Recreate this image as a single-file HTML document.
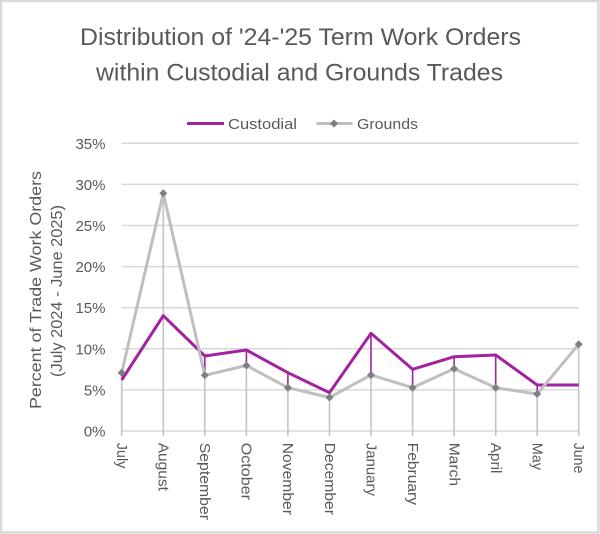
<!DOCTYPE html>
<html><head><meta charset="utf-8"><style>
html,body{margin:0;padding:0;background:#fff;}
svg{display:block;}
text{font-family:"Liberation Sans",Arial,sans-serif;fill:#595959;}
</style></head><body>
<svg width="600" height="534" viewBox="0 0 600 534" xmlns="http://www.w3.org/2000/svg">
<rect x="0" y="0" width="600" height="534" fill="#fff"/>
<rect x="1" y="1" width="597.5" height="531.5" fill="none" stroke="#d9d9d9" stroke-width="2.5"/>

<!-- Title -->
<text x="80" y="45" font-size="24.5" textLength="441" lengthAdjust="spacingAndGlyphs">Distribution of '24-'25 Term Work Orders</text>
<text x="96" y="80.5" font-size="24.5" textLength="407" lengthAdjust="spacingAndGlyphs">within Custodial and Grounds Trades</text>

<!-- Legend -->
<line x1="187" y1="123.5" x2="224" y2="123.5" stroke="#A2239F" stroke-width="3"/>
<text x="228" y="129" font-size="15" textLength="69" lengthAdjust="spacingAndGlyphs">Custodial</text>
<line x1="316.5" y1="123.5" x2="352.5" y2="123.5" stroke="#BFBFBF" stroke-width="3"/>
<path d="M334 119.5 L338 123.5 L334 127.5 L330 123.5 Z" fill="#7F7F7F"/>
<text x="357" y="129" font-size="15" textLength="61" lengthAdjust="spacingAndGlyphs">Grounds</text>

<!-- Gridlines -->
<g stroke="#D9D9D9" stroke-width="1.5">
<line x1="121.7" y1="143.3" x2="578.7" y2="143.3"/>
<line x1="121.7" y1="184.4" x2="578.7" y2="184.4"/>
<line x1="121.7" y1="225.5" x2="578.7" y2="225.5"/>
<line x1="121.7" y1="266.6" x2="578.7" y2="266.6"/>
<line x1="121.7" y1="307.7" x2="578.7" y2="307.7"/>
<line x1="121.7" y1="348.8" x2="578.7" y2="348.8"/>
<line x1="121.7" y1="389.9" x2="578.7" y2="389.9"/>
<line x1="121.7" y1="431" x2="578.7" y2="431"/>
</g>

<!-- Y labels -->
<g font-size="15" text-anchor="end">
<text x="105.5" y="148.8">35%</text>
<text x="105.5" y="189.9">30%</text>
<text x="105.5" y="231">25%</text>
<text x="105.5" y="272.1">20%</text>
<text x="105.5" y="313.2">15%</text>
<text x="105.5" y="354.3">10%</text>
<text x="105.5" y="395.4">5%</text>
<text x="105.5" y="436.5">0%</text>
</g>

<!-- Y axis title -->
<text transform="translate(41,290) rotate(-90)" text-anchor="middle" font-size="15.5" textLength="238" lengthAdjust="spacingAndGlyphs">Percent of Trade Work Orders</text>
<text transform="translate(62,291) rotate(-90)" text-anchor="middle" font-size="15.5" textLength="172" lengthAdjust="spacingAndGlyphs">(July 2024 - June 2025)</text>

<!-- Drop lines (gray) from grounds to axis incl. ticks -->
<g stroke="#C4C4C4" stroke-width="1.6">
<line x1="121.7" y1="372.7" x2="121.7" y2="436"/>
<line x1="163.3" y1="193.3" x2="163.3" y2="436"/>
<line x1="204.8" y1="375.3" x2="204.8" y2="436"/>
<line x1="246.4" y1="365.5" x2="246.4" y2="436"/>
<line x1="287.9" y1="387.7" x2="287.9" y2="436"/>
<line x1="329.5" y1="397.5" x2="329.5" y2="436"/>
<line x1="371" y1="375" x2="371" y2="436"/>
<line x1="412.6" y1="387.7" x2="412.6" y2="436"/>
<line x1="454.1" y1="368.7" x2="454.1" y2="436"/>
<line x1="495.7" y1="387.7" x2="495.7" y2="436"/>
<line x1="537.2" y1="394" x2="537.2" y2="436"/>
<line x1="578.7" y1="344.3" x2="578.7" y2="436"/>
</g>
<!-- Purple high-low segments -->
<g stroke="#A2239F" stroke-width="1.6">
<line x1="204.8" y1="356" x2="204.8" y2="375.3"/>
<line x1="246.4" y1="350" x2="246.4" y2="365.5"/>
<line x1="287.9" y1="372.7" x2="287.9" y2="387.7"/>
<line x1="329.5" y1="392.7" x2="329.5" y2="397.5"/>
<line x1="371" y1="333.3" x2="371" y2="375"/>
<line x1="412.6" y1="369.3" x2="412.6" y2="387.7"/>
<line x1="454.1" y1="356.7" x2="454.1" y2="368.7"/>
<line x1="495.7" y1="355" x2="495.7" y2="387.7"/>
<line x1="537.2" y1="385" x2="537.2" y2="394"/>
</g>

<!-- Custodial series -->
<polyline fill="none" stroke="#A2239F" stroke-width="3" stroke-linejoin="round" points="121.7,380 163.3,315.7 204.8,356 246.4,350 287.9,372.7 329.5,392.7 371,333.3 412.6,369.3 454.1,356.7 495.7,355 537.2,385 578.7,385"/>

<!-- Grounds series -->
<polyline fill="none" stroke="#BFBFBF" stroke-width="3" stroke-linejoin="round" points="121.7,372.7 163.3,193.3 204.8,375.3 246.4,365.5 287.9,387.7 329.5,397.5 371,375 412.6,387.7 454.1,368.7 495.7,387.7 537.2,394 578.7,344.3"/>
<g fill="#7F7F7F">
<path d="M121.7 368.7 l4 4 l-4 4 l-4 -4 Z"/>
<path d="M163.3 189.3 l4 4 l-4 4 l-4 -4 Z"/>
<path d="M204.8 371.3 l4 4 l-4 4 l-4 -4 Z"/>
<path d="M246.4 361.5 l4 4 l-4 4 l-4 -4 Z"/>
<path d="M287.9 383.7 l4 4 l-4 4 l-4 -4 Z"/>
<path d="M329.5 393.5 l4 4 l-4 4 l-4 -4 Z"/>
<path d="M371 371 l4 4 l-4 4 l-4 -4 Z"/>
<path d="M412.6 383.7 l4 4 l-4 4 l-4 -4 Z"/>
<path d="M454.1 364.7 l4 4 l-4 4 l-4 -4 Z"/>
<path d="M495.7 383.7 l4 4 l-4 4 l-4 -4 Z"/>
<path d="M537.2 390 l4 4 l-4 4 l-4 -4 Z"/>
<path d="M578.7 340.3 l4 4 l-4 4 l-4 -4 Z"/>
</g>

<!-- X labels -->
<g font-size="15">
<text transform="translate(117,442.7) rotate(90)" textLength="25.7" lengthAdjust="spacingAndGlyphs">July</text>
<text transform="translate(158.6,442.7) rotate(90)" textLength="48.3" lengthAdjust="spacingAndGlyphs">August</text>
<text transform="translate(200.1,442.7) rotate(90)" textLength="77.3" lengthAdjust="spacingAndGlyphs">September</text>
<text transform="translate(241.7,442.7) rotate(90)" textLength="57.3" lengthAdjust="spacingAndGlyphs">October</text>
<text transform="translate(283.2,442.7) rotate(90)" textLength="72.3" lengthAdjust="spacingAndGlyphs">November</text>
<text transform="translate(324.8,442.7) rotate(90)" textLength="72.3" lengthAdjust="spacingAndGlyphs">December</text>
<text transform="translate(366.3,442.7) rotate(90)" textLength="53.3" lengthAdjust="spacingAndGlyphs">January</text>
<text transform="translate(407.9,442.7) rotate(90)" textLength="62.3" lengthAdjust="spacingAndGlyphs">February</text>
<text transform="translate(449.4,442.7) rotate(90)" textLength="43.3" lengthAdjust="spacingAndGlyphs">March</text>
<text transform="translate(491,442.7) rotate(90)" textLength="30.7" lengthAdjust="spacingAndGlyphs">April</text>
<text transform="translate(532.5,442.7) rotate(90)" textLength="27.3" lengthAdjust="spacingAndGlyphs">May</text>
<text transform="translate(574,442.7) rotate(90)" textLength="30.7" lengthAdjust="spacingAndGlyphs">June</text>
</g>
</svg>
</body></html>
